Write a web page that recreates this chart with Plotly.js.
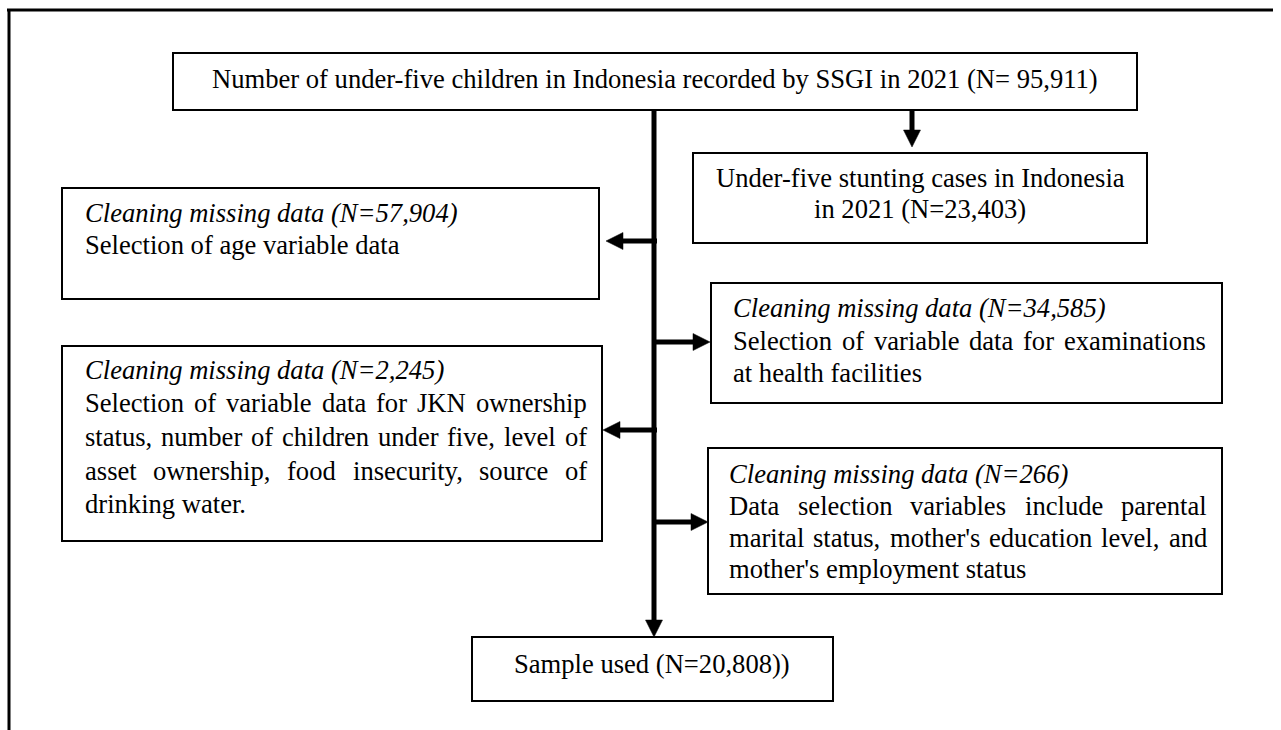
<!DOCTYPE html>
<html>
<head>
<meta charset="utf-8">
<script src="https://cdn.plot.ly/plotly-3.0.1.min.js"></script>
<style>
html,body{margin:0;padding:0;background:#fff;}
#chart{width:1281px;height:730px;}
</style>
</head>
<body>
<div id="chart"></div>
<script>
// ---- Data: texts of the flowchart boxes ----
const sourceText = ["Number of under-five children in Indonesia recorded by SSGI in 2021 (N= 95,911)"];
const stuntingText = ["Under-five stunting cases in Indonesia", "in 2021 (N=23,403)"];
const step1Title = "Cleaning missing data (N=57,904)";
const step1Body = ["Selection of age variable data"];
const step2Title = "Cleaning missing data (N=34,585)";
const step2Body = ["Selection of variable data for examinations", "at health facilities"];
const step3Title = "Cleaning missing data (N=2,245)";
const step3Body = ["Selection of variable data for JKN ownership",
                   "status, number of children under five, level of",
                   "asset ownership, food insecurity, source of",
                   "drinking water."];
const step4Title = "Cleaning missing data (N=266)";
const step4Body = ["Data selection variables include parental",
                   "marital status, mother's education level, and",
                   "mother's employment status"];
const sampleText = ["Sample used (N=20,808))"];

// ---- Layout / style configuration ----
const FONT = "Liberation Serif, Times New Roman, serif";
const FS = 26.6;
const BASE_OFF = 9; // baseline -> visual middle of annotation box

const boxes = [
  {r:[173,53,1137,110], lines:sourceText, align:'center', cx:655, base:[88]},
  {r:[693,153,1147,243], lines:stuntingText, align:'center', cx:920, base:[187,218]},
  {r:[62,188,599,299], title:step1Title, lines:step1Body, align:'justify', lx:84, rx:582, base:[222,254]},
  {r:[711,283,1222,403], title:step2Title, lines:step2Body, align:'justify', lx:732, rx:1205, base:[317,350,382]},
  {r:[62,346,602,541], title:step3Title, lines:step3Body, align:'justify', lx:84, rx:586, base:[379,412,446,480,513]},
  {r:[708,448,1222,594], title:step4Title, lines:step4Body, align:'justify', lx:728, rx:1206, base:[483,515,547,578]},
  {r:[472,637,833,701], lines:sampleText, align:'center', cx:652, base:[673]}
];

const ctx = document.createElement('canvas').getContext('2d');
ctx.font = FS + "px 'Liberation Serif'";

const shapes = [];
const annotations = [];

function ann(text, x, y, xanchor){
  annotations.push({text:text, x:x, y:y, xref:'x', yref:'y', xanchor:xanchor, yanchor:'middle',
    showarrow:false, borderpad:0, font:{family:FONT, size:FS, color:'#000'}});
}

boxes.forEach(b=>{
  shapes.push({type:'rect', x0:b.r[0], y0:b.r[1], x1:b.r[2], y1:b.r[3], line:{color:'#000', width:2}, fillcolor:'rgba(0,0,0,0)'});
  let k = 0;
  if (b.title){
    ann('<i>'+b.title+'</i>', b.lx, b.base[0]-BASE_OFF, 'left');
    k = 1;
  }
  b.lines.forEach((ln, i)=>{
    const y = b.base[i+k]-BASE_OFF;
    if (b.align === 'center'){
      ann(ln, b.cx, y, 'center');
    } else {
      const last = (i === b.lines.length-1);
      if (last){
        ann(ln, b.lx, y, 'left');
      } else {
        const words = ln.split(' ');
        const ws = words.map(w=>ctx.measureText(w).width);
        const sum = ws.reduce((a,c)=>a+c,0);
        const gap = (b.rx - b.lx - sum)/(words.length-1);
        let cur = b.lx;
        words.forEach((w,j)=>{ ann(w, cur, y, 'left'); cur += ws[j] + gap; });
      }
    }
  });
});

// connectors
const LW = 5, HL = 17, HW = 8.5;
function seg(x0,y0,x1,y1,w){ shapes.push({type:'line', x0:x0,y0:y0,x1:x1,y1:y1, line:{color:'#000', width:w}}); }
function tri(pts){ shapes.push({type:'path', path:'M'+pts.map(p=>p.join(',')).join('L')+'Z', fillcolor:'#000', line:{color:'#000', width:0.5}}); }
function arrowDown(x, y0, y1){ seg(x,y0,x,y1-HL+1,LW); tri([[x-HW,y1-HL],[x+HW,y1-HL],[x,y1]]); }
function arrowLeft(y, x0, x1){ seg(x0,y,x1+HL-1,y,LW); tri([[x1+HL,y-HW],[x1+HL,y+HW],[x1,y]]); }
function arrowRight(y, x0, x1){ seg(x0,y,x1-HL+1,y,LW); tri([[x1-HL,y-HW],[x1-HL,y+HW],[x1,y]]); }

arrowDown(654, 110, 637);
arrowDown(912, 110, 147);
arrowLeft(241, 657, 606);
arrowRight(342, 654, 710);
arrowLeft(430, 657, 603);
arrowRight(522, 654, 708);

// outer frame (top and left edges)
seg(7, 10, 1273, 10, 3);
seg(9, 9, 9, 730, 3);

const layout = {
  width:1281, height:730,
  margin:{l:0,r:0,t:0,b:0},
  paper_bgcolor:'#fff', plot_bgcolor:'#fff',
  xaxis:{range:[0,1281], visible:false, fixedrange:true},
  yaxis:{range:[730,0], visible:false, fixedrange:true},
  shapes:shapes, annotations:annotations, showlegend:false
};

Plotly.newPlot('chart', [{x:[0], y:[0], mode:'markers', marker:{opacity:0}, hoverinfo:'skip'}], layout, {staticPlot:true, displayModeBar:false});
</script>
</body>
</html>
